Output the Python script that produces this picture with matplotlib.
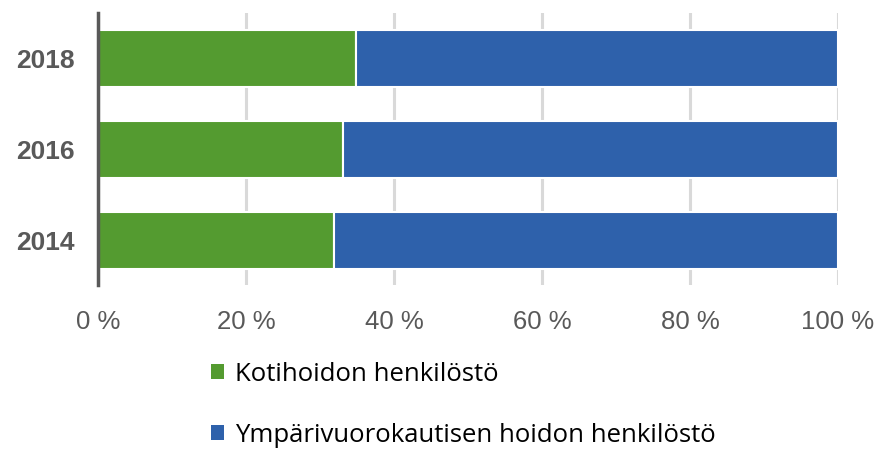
import matplotlib
matplotlib.use("Agg")
import matplotlib.pyplot as plt
from matplotlib.patches import Patch

years = ["2014", "2016", "2018"]
kotihoito = [31.9, 33.1, 34.9]
ymparivuorokautinen = [68.1, 66.9, 65.1]
series_names = ["Kotihoidon henkilöstö", "Ympärivuorokautisen hoidon henkilöstö"]
xticks = [0, 20, 40, 60, 80, 100]
xtick_labels = ["0 %", "20 %", "40 %", "60 %", "80 %", "100 %"]

green = "#549b30"
blue = "#2e61ab"

fig = plt.figure(figsize=(8.84, 4.49), dpi=100)
ax = fig.add_axes([0.111, 0.365, 0.837, 0.606])

y = list(range(len(years)))
ax.barh(y, kotihoito, height=0.63, color=green, edgecolor="white", linewidth=1.5, zorder=3)
ax.barh(y, ymparivuorokautinen, left=kotihoito, height=0.63, color=blue,
        edgecolor="white", linewidth=1.5, zorder=3)

ax.set_xlim(0, 100)
ax.set_ylim(-0.49, 2.5)
ax.set_yticks(y)
ax.set_yticklabels(years, fontsize=19, fontweight="bold", color="#595959",
                   family="Liberation Sans")
ax.set_xticks(xticks)
ax.set_xticklabels(xtick_labels, fontsize=18.5, color="#595959", family="Liberation Sans")
ax.tick_params(axis="both", length=0)
ax.tick_params(axis="x", pad=18)
ax.tick_params(axis="y", pad=17)

ax.grid(axis="x", color="#d9d9d9", linewidth=2.2, zorder=0)
ax.set_axisbelow(True)
for s in ["top", "right", "bottom"]:
    ax.spines[s].set_visible(False)
ax.spines["left"].set_color("#595959")
ax.spines["left"].set_linewidth(2.5)
ax.spines["left"].set_zorder(4)

handles = [Patch(facecolor=green), Patch(facecolor=blue)]
fig.legend(handles, series_names, loc="upper left", bbox_to_anchor=(0.227, 0.217),
           frameon=False, prop={"family": "Open Sans", "size": 18.5},
           handlelength=0.5, handleheight=0.5, handletextpad=0.45,
           labelspacing=1.4, borderaxespad=0)

fig.savefig("out.png", dpi=100)
